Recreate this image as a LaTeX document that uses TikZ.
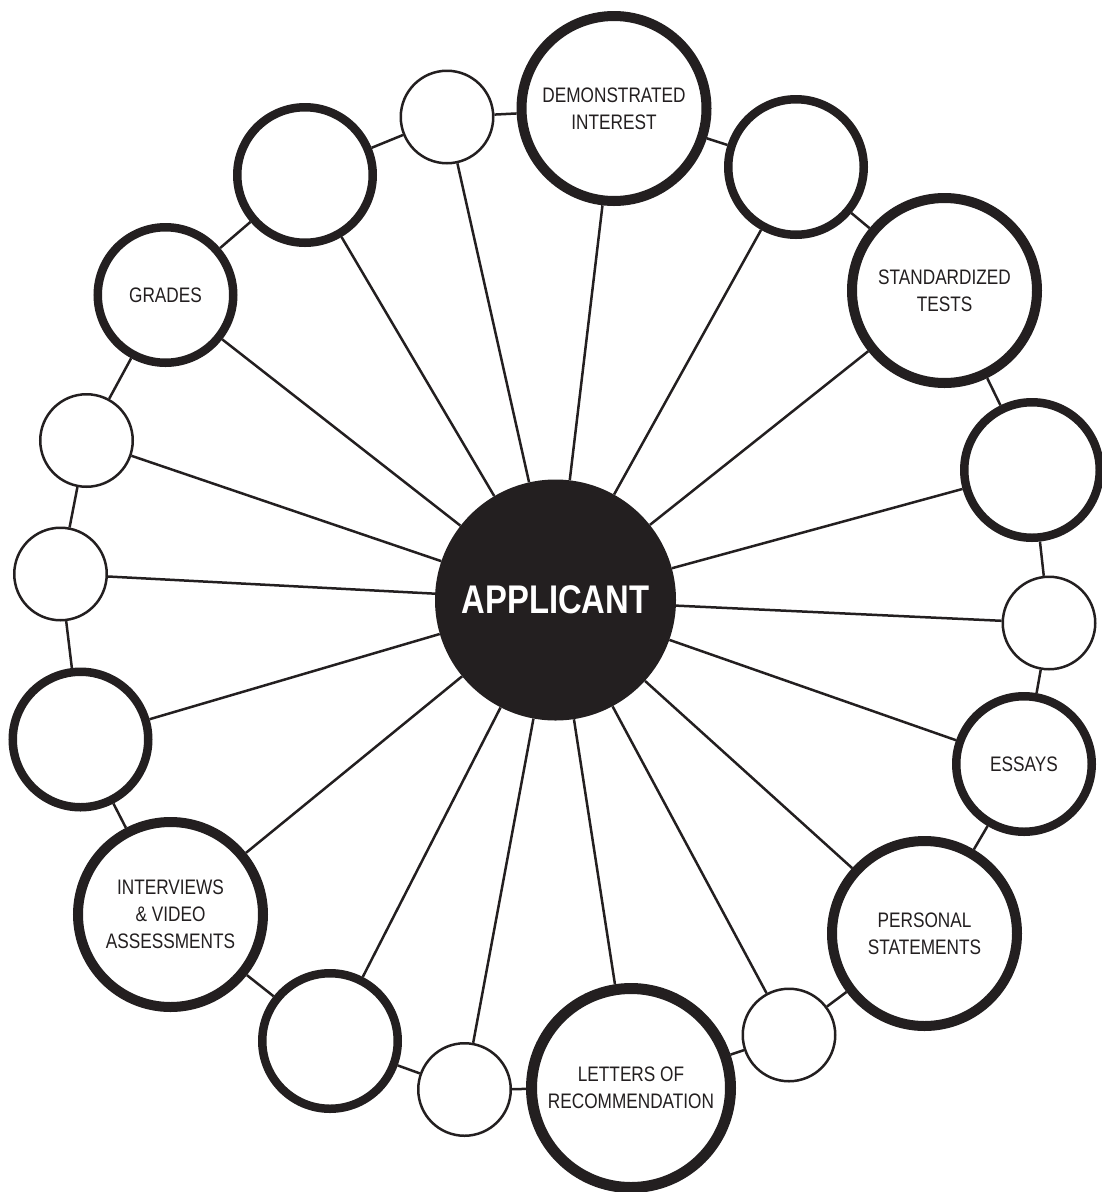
\documentclass[tikz,border=0pt]{standalone}
\usepackage{fontspec}
\setmainfont{Liberation Sans}[FakeStretch=0.82]
\usepackage{tikz}
\definecolor{ink}{HTML}{231F20}
\tikzset{>=stealth,inner sep=0pt,}
\tikzset{
	hub/.style={circle,fill=ink,text=white,minimum size=241pt,font=\fontsize{40}{48}\selectfont\bfseries},
	ring/.style={circle,draw=ink,fill=white,text=ink,align=center,font=\fontsize{21}{27}\selectfont},
	bigring/.style={ring,line width=10pt,minimum size=185pt},
	midring/.style={ring,line width=8.5pt,minimum size=135.5pt},
	smallring/.style={ring,line width=2.5pt,minimum size=92.5pt},
	link/.style={draw=ink,line width=2.5pt},
}
\begin{document}
\begin{tikzpicture}[x=1pt,y=-1pt]
			\useasboundingbox (0,0) rectangle (1101,1192);
			\node[hub] (APP) at (555.5,600) {APPLICANT};
			\node[bigring] (DI) at (614,108.5) {DEMONSTRATED\\INTEREST};
			\node[midring] (C4) at (796,167) {};
			\node[bigring] (ST) at (944.5,290.5) {STANDARDIZED\\TESTS};
			\node[midring] (C7) at (1032,470) {};
			\node[smallring] (S10) at (1049,623) {};
			\node[midring] (ES) at (1024,764) {ESSAYS};
			\node[bigring] (PS) at (924.5,933.5) {PERSONAL\\STATEMENTS};
			\node[smallring] (S16) at (789,1035) {};
			\node[bigring,line width=11pt,minimum size=199pt] (LR) at (631,1088) {LETTERS OF\\RECOMMENDATION};
			\node[smallring] (S17) at (464.5,1089.5) {};
			\node[midring] (C15) at (330,1041) {};
			\node[bigring] (IV) at (170.5,914.5) {INTERVIEWS\\\& VIDEO\\ASSESSMENTS};
			\node[midring] (C11) at (80.5,739.5) {};
			\node[smallring] (S9) at (60.5,574) {};
			\node[smallring] (S8) at (86.5,440.5) {};
			\node[midring] (GR) at (165.5,295) {GRADES};
			\node[midring] (C3) at (305,175) {};
			\node[smallring] (S2) at (447,117) {};
			\draw[link] (APP)--(DI);
			\draw[link] (APP)--(C4);
			\draw[link] (APP)--(ST);
			\draw[link] (APP)--(C7);
			\draw[link] (APP)--(S10);
			\draw[link] (APP)--(ES);
			\draw[link] (APP)--(PS);
			\draw[link] (APP)--(S16);
			\draw[link] (APP)--(LR);
			\draw[link] (APP)--(S17);
			\draw[link] (APP)--(C15);
			\draw[link] (APP)--(IV);
			\draw[link] (APP)--(C11);
			\draw[link] (APP)--(S9);
			\draw[link] (APP)--(S8);
			\draw[link] (APP)--(GR);
			\draw[link] (APP)--(C3);
			\draw[link] (APP)--(S2);
			\draw[link] (DI)--(C4);
			\draw[link] (C4)--(ST);
			\draw[link] (ST)--(C7);
			\draw[link] (C7)--(S10);
			\draw[link] (S10)--(ES);
			\draw[link] (ES)--(PS);
			\draw[link] (PS)--(S16);
			\draw[link] (S16)--(LR);
			\draw[link] (LR)--(S17);
			\draw[link] (S17)--(C15);
			\draw[link] (C15)--(IV);
			\draw[link] (IV)--(C11);
			\draw[link] (C11)--(S9);
			\draw[link] (S9)--(S8);
			\draw[link] (S8)--(GR);
			\draw[link] (GR)--(C3);
			\draw[link] (C3)--(S2);
			\draw[link] (S2)--(DI);
		\end{tikzpicture}
\end{document}
